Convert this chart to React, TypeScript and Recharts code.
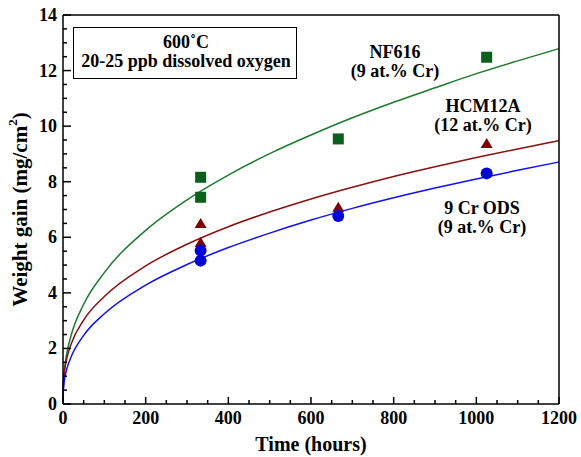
import React from "react";
import {
  ComposedChart,
  Line,
  Scatter,
  XAxis,
  YAxis,
  Label,
} from "recharts";

// fitted parabolic curves
const fitTimes = [0, 1, 2, 5, 10, 20, 50, 100, 200, 300, 400, 500, 600, 700, 800, 900, 1000, 1100, 1200];
const nf616Fit = [0, 0.75, 0.99, 1.43, 1.88, 2.49, 3.59, 4.73, 6.25, 7.35, 8.24, 9.01, 9.68, 10.3, 10.86, 11.38, 11.89, 12.35, 12.79];
const hcm12aFit = [0, 0.74, 0.95, 1.32, 1.69, 2.17, 3.02, 3.87, 4.97, 5.75, 6.38, 6.91, 7.38, 7.8, 8.19, 8.54, 8.87, 9.18, 9.48];
const odsFit = [0, 0.52, 0.69, 0.99, 1.3, 1.71, 2.47, 3.25, 4.28, 5.02, 5.63, 6.15, 6.62, 7.04, 7.42, 7.77, 8.1, 8.41, 8.71];

// measured points
const nf616Times = [333, 333, 666, 1025];
const nf616Gain = [8.16, 7.44, 9.54, 12.48];
const hcm12aTimes = [333, 333, 666, 1025];
const hcm12aGain = [6.48, 5.79, 7.06, 9.36];
const odsTimes = [333, 333, 666, 1025];
const odsGain = [5.52, 5.16, 6.77, 8.3];

const xTicks = [0, 50, 100, 150, 200, 250, 300, 350, 400, 450, 500, 550, 600, 650, 700, 750, 800, 850, 900, 950, 1000, 1050, 1100, 1150, 1200];
const yTicks = [0, 0.5, 1, 1.5, 2, 2.5, 3, 3.5, 4, 4.5, 5, 5.5, 6, 6.5, 7, 7.5, 8, 8.5, 9, 9.5, 10, 10.5, 11, 11.5, 12, 12.5, 13, 13.5, 14];

const toPts = (xs: number[], ys: number[]) => xs.map((t, i) => ({ t, w: ys[i] }));

const FONT = "Liberation Serif";
const GREEN_PT = "#0b5e1c";
const GREEN_LN = "#1d7a2e";
const RED_PT = "#7d0000";
const RED_LN = "#8a1010";
const BLUE_PT = "#0000d8";
const BLUE_LN = "#1010ff";

const textStyle: React.CSSProperties = {
  fontFamily: FONT,
  fontWeight: 700,
  fontSize: 18,
  fill: "#000",
};

const BottomTick = (p: any) => {
  const v = p.payload.value;
  const major = v % 200 === 0;
  return (
    <g>
      <line x1={p.x} x2={p.x} y1={p.y} y2={p.y - (major ? 7 : 4)} stroke="#000" strokeWidth={1.5} />
      {major && (
        <text x={p.x} y={p.y + 20} textAnchor="middle" style={textStyle}>
          {v}
        </text>
      )}
    </g>
  );
};

const TopTick = (p: any) => {
  const major = p.payload.value % 200 === 0;
  return <line x1={p.x} x2={p.x} y1={p.y} y2={p.y + (major ? 7 : 4)} stroke="#000" strokeWidth={1.5} />;
};

const LeftTick = (p: any) => {
  const v = p.payload.value;
  const major = v % 2 === 0;
  return (
    <g>
      <line x1={p.x} x2={p.x + (major ? 8 : 4)} y1={p.y} y2={p.y} stroke="#000" strokeWidth={1.5} />
      {major && (
        <text x={p.x - 6} y={p.y + 6} textAnchor="end" style={textStyle}>
          {v}
        </text>
      )}
    </g>
  );
};

const RightTick = (p: any) => {
  const major = p.payload.value % 2 === 0;
  return <line x1={p.x} x2={p.x - (major ? 8 : 4)} y1={p.y} y2={p.y} stroke="#000" strokeWidth={1.5} />;
};

const Square = (p: any) => (
  <rect x={p.cx - 5.5} y={p.cy - 5.5} width={11} height={11} fill={GREEN_PT} />
);
const Triangle = (p: any) => (
  <polygon
    points={`${p.cx},${p.cy - 6} ${p.cx + 6},${p.cy + 4} ${p.cx - 6},${p.cy + 4}`}
    fill={RED_PT}
  />
);
const Dot = (p: any) => <circle cx={p.cx} cy={p.cy} r={6} fill={BLUE_PT} />;

const YTitle = (p: any) => {
  const vb = p.viewBox;
  const cx = 20;
  const cy = vb.y + vb.height / 2;
  return (
    <text
      x={cx}
      y={cy}
      transform={`rotate(-90 ${cx} ${cy})`}
      textAnchor="middle"
      dominantBaseline="central"
      style={{ ...textStyle, fontSize: 21 }}
    >
      Weight gain (mg/cm
      <tspan fontSize={13} dy={-8}>2</tspan>
      <tspan dy={8}>)</tspan>
    </text>
  );
};

const note = (left: number, top: number, width: number): React.CSSProperties => ({
  position: "absolute",
  left,
  top,
  width,
  textAlign: "center",
  fontFamily: FONT,
  fontWeight: 700,
  fontSize: 18,
  lineHeight: "19px",
  color: "#000",
});

export default function App() {
  const axisLine = { stroke: "#000", strokeWidth: 1.5 };
  return (
    <div style={{ position: "absolute", left: 0, top: 0, width: 581, height: 457, background: "#fff" }}>
      <ComposedChart width={581} height={457} margin={{ top: 14, right: 21, bottom: 0, left: 0 }}>
        <XAxis
          xAxisId="b"
          type="number"
          dataKey="t"
          domain={[0, 1200]}
          ticks={xTicks}
          interval={0}
          height={53}
          tickSize={0}
          tickMargin={0}
          tickLine={false}
          axisLine={axisLine}
          tick={BottomTick}
        >
          <Label
            value="Time (hours)"
            position="insideBottom"
            offset={6}
            style={{ ...textStyle, fontSize: 20 }}
          />
        </XAxis>
        <XAxis
          xAxisId="t"
          orientation="top"
          type="number"
          domain={[0, 1200]}
          ticks={xTicks}
          interval={0}
          height={1}
          tickSize={0}
          tickMargin={0}
          tickLine={false}
          axisLine={axisLine}
          tick={TopTick}
        />
        <YAxis
          yAxisId="l"
          type="number"
          domain={[0, 14]}
          ticks={yTicks}
          interval={0}
          width={63}
          tickSize={0}
          tickMargin={0}
          tickLine={false}
          axisLine={axisLine}
          tick={LeftTick}
        >
          <Label content={YTitle} />
        </YAxis>
        <YAxis
          yAxisId="r"
          orientation="right"
          type="number"
          domain={[0, 14]}
          ticks={yTicks}
          interval={0}
          width={1}
          tickSize={0}
          tickMargin={0}
          tickLine={false}
          axisLine={axisLine}
          tick={RightTick}
        />
        <Line xAxisId="b" yAxisId="l" data={toPts(fitTimes, nf616Fit)} dataKey="w" type="monotone" stroke={GREEN_LN} strokeWidth={1.5} dot={false} isAnimationActive={false} />
        <Line xAxisId="b" yAxisId="l" data={toPts(fitTimes, hcm12aFit)} dataKey="w" type="monotone" stroke={RED_LN} strokeWidth={1.5} dot={false} isAnimationActive={false} />
        <Line xAxisId="b" yAxisId="l" data={toPts(fitTimes, odsFit)} dataKey="w" type="monotone" stroke={BLUE_LN} strokeWidth={1.5} dot={false} isAnimationActive={false} />
        <Scatter xAxisId="b" yAxisId="l" data={toPts(nf616Times, nf616Gain)} dataKey="w" shape={Square} isAnimationActive={false} />
        <Scatter xAxisId="b" yAxisId="l" data={toPts(hcm12aTimes, hcm12aGain)} dataKey="w" shape={Triangle} isAnimationActive={false} />
        <Scatter xAxisId="b" yAxisId="l" data={toPts(odsTimes, odsGain)} dataKey="w" shape={Dot} isAnimationActive={false} />
      </ComposedChart>

      <div
        style={{
          position: "absolute",
          left: 73,
          top: 27,
          width: 224,
          height: 52,
          border: "1.5px solid #000",
          boxSizing: "border-box",
        }}
      />
      <div style={note(73, 33, 226)}>
        600˚C
        <br />
        20-25 ppb dissolved oxygen
      </div>
      <div style={note(335, 43, 120)}>
        NF616
        <br />
        (9 at.% Cr)
      </div>
      <div style={note(423, 97, 120)}>
        HCM12A
        <br />
        (12 at.% Cr)
      </div>
      <div style={note(422, 199, 120)}>
        9 Cr ODS
        <br />
        (9 at.% Cr)
      </div>
    </div>
  );
}
